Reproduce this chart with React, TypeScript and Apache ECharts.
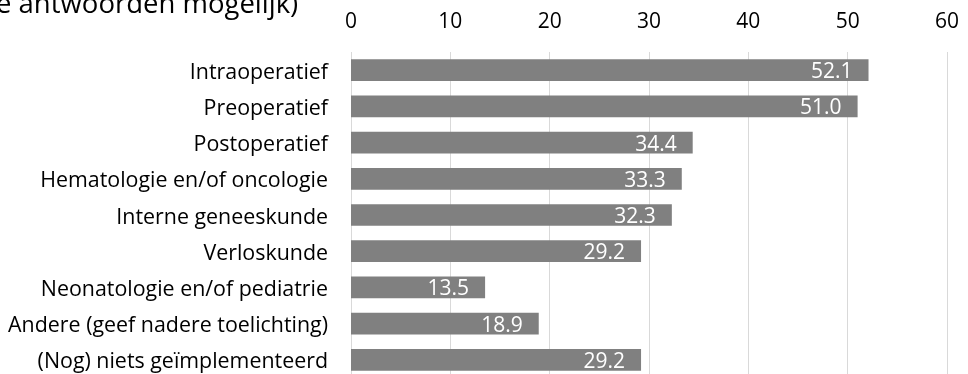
import React, { useEffect, useRef } from "react";
import * as echarts from "echarts";

const categories = [
  "Intraoperatief",
  "Preoperatief",
  "Postoperatief",
  "Hematologie en/of oncologie",
  "Interne geneeskunde",
  "Verloskunde",
  "Neonatologie en/of pediatrie",
  "Andere (geef nadere toelichting)",
  "(Nog) niets geïmplementeerd",
];
const values = [52.1, 51.0, 34.4, 33.3, 32.3, 29.2, 13.5, 18.9, 29.2];
const titleText = "e antwoorden mogelijk)";

const FONT = "'Open Sans', sans-serif";

export default function App() {
  const ref = useRef<HTMLDivElement>(null);
  useEffect(() => {
    if (!ref.current) return;
    const chart = echarts.init(ref.current, null, { renderer: "svg" });
    chart.setOption({
      animation: false,
      textStyle: { fontFamily: FONT },
      graphic: [
        {
          type: "text",
          left: -4,
          top: -12,
          style: { text: titleText, fontSize: 27.5, fontFamily: FONT, fill: "#000" },
        },
      ],
      grid: { left: 351, right: 21, top: 52, bottom: 4, containLabel: false },
      xAxis: {
        type: "value",
        position: "top",
        min: 0,
        max: 60,
        interval: 10,
        axisLine: { show: false },
        axisTick: { show: false },
        axisLabel: { color: "#000", fontSize: 21, fontFamily: FONT, margin: 22 },
        splitLine: { lineStyle: { color: "#d9d9d9", width: 1 } },
      },
      yAxis: {
        type: "category",
        data: categories,
        inverse: true,
        axisLine: { show: false },
        axisTick: { show: false },
        axisLabel: { color: "#000", fontSize: 21.4, fontFamily: FONT, margin: 23 },
      },
      series: [
        {
          type: "bar",
          data: values,
          barWidth: "60%",
          itemStyle: { color: "#808080" },
          label: {
            show: true,
            position: "insideRight",
            distance: 16,
            color: "#fff",
            fontSize: 21,
            fontFamily: FONT,
            formatter: (p: any) => Number(p.value).toFixed(1),
          },
        },
      ],
    });
    return () => chart.dispose();
  }, []);
  return (
    <div
      ref={ref}
      style={{ position: "fixed", top: 0, left: 0, width: 968, height: 382 }}
    />
  );
}
